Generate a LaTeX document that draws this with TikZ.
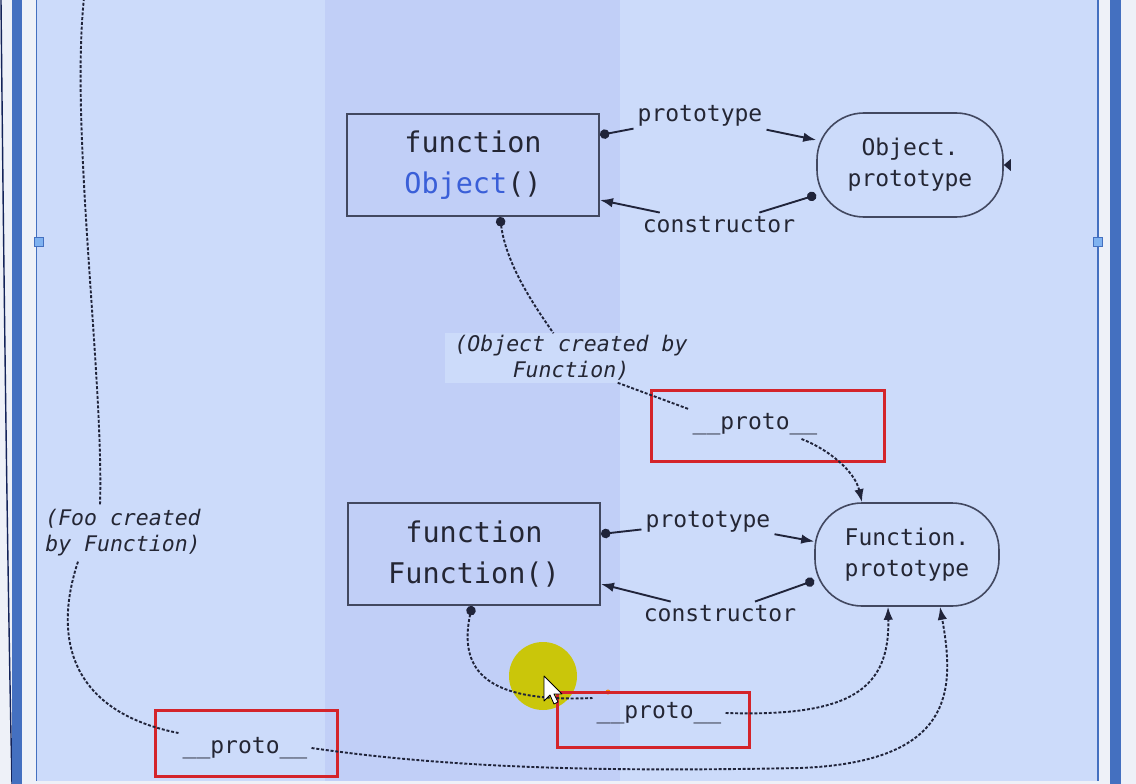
\documentclass[tikz,border=0pt]{standalone}
\usepackage{fontspec}
\usetikzlibrary{arrows.meta,calc}
\newfontfamily\codefont{DejaVu Sans Mono}
\newcommand\bigmono{\codefont\fontsize{28.5}{41}\selectfont}
\newcommand\midmono{\codefont\fontsize{23}{31}\selectfont}
\newcommand\notemono{\codefont\itshape\fontsize{21.5}{26}\selectfont}
\definecolor{panel}{RGB}{204,219,250}
\definecolor{strip}{RGB}{193,207,247}
\definecolor{outer}{RGB}{238,241,248}
\definecolor{bar}{RGB}{68,112,192}
\definecolor{navy}{RGB}{20,36,90}
\definecolor{ink}{RGB}{36,38,52}
\definecolor{boxline}{RGB}{66,72,96}
\definecolor{wire}{RGB}{32,36,58}
\definecolor{redmark}{RGB}{212,36,42}
\definecolor{objblue}{RGB}{58,95,216}
\definecolor{hl}{RGB}{202,198,10}
\definecolor{handle}{RGB}{127,178,240}
\tikzset{
  fnbox/.style={draw=boxline, line width=2pt, minimum width=252pt, minimum height=102pt,
    align=center, font=\bigmono, text=ink, inner sep=0pt},
  protobox/.style={draw=boxline, line width=1.6pt, rounded corners=47pt, minimum width=186pt,
    minimum height=104pt, align=center, font=\midmono, text=ink, inner sep=0pt},
  lbl/.style={font=\midmono, text=ink, inner sep=4pt},
  note/.style={font=\notemono, text=ink, align=center, inner sep=5pt},
  solidc/.style={draw=wire, line width=1.9pt},
  dotc/.style={draw=wire, line width=1.9pt, dash pattern=on 3pt off 1.8pt},
  redbox/.style={draw=redmark, line width=3pt, inner sep=0pt},
  dotend/.tip={Circle[length=9.5pt]},
  headend/.tip={Latex[length=13pt,width=9.5pt]},
}
\begin{document}
\begin{tikzpicture}[x=1pt,y=-1pt]
\useasboundingbox (0,0) rectangle (1136,784);
% window frame and panel
\fill[outer] (0,0) rectangle (1136,784);
\draw[navy, line width=1.4pt] (1,0) .. controls (4,300) and (8,600) .. (12,784);
\fill[bar] (12,0) rectangle (22,784);
\fill[bar] (1110,0) rectangle (1121,784);
\fill[panel] (37,0) rectangle (1098,781);
\fill[strip] (325,0) rectangle (620,781);
\draw[bar, line width=1.2pt] (36.5,0) -- (36.5,781);
\draw[bar, line width=1.2pt] (1098,0) -- (1098,781);
\draw[bar, fill=handle, line width=0.8pt] (34,237) rectangle (43,246);
\draw[bar, fill=handle, line width=0.8pt] (1093,237) rectangle (1102,246);

% main nodes
\node[fnbox] (ofn) at (473,165) {function\\\textcolor{objblue}{Object}()};
\node[protobox] (oproto) at (910,165) {Object.\\prototype};
\node[fnbox] (ffn) at (474,554) {function\\Function()};
\node[protobox, minimum width=184pt, minimum height=103pt] (fproto) at (907,554.5) {Function.\\prototype};

% edge labels
\node[lbl] (p1) at (700,116) {prototype};
\node[lbl] (c1) at (719,225) {constructor};
\node[lbl] (p2) at (708,522) {prototype};
\node[lbl] (c2) at (720,614) {constructor};
\node[note, fill=panel, inner xsep=10pt, inner ysep=2pt] (onote) at (571,358) {(Object created by\\Function)};
\node[note] (fnote) at (123,533) {(Foo created\\by Function)};

% cursor highlight
\fill[hl] (543,676) circle (34);
\fill[orange!90!yellow] (608,692) circle (2.5);

% __proto__ labels and their marks
\node[lbl] (pt1) at (755,424) {\_\_proto\_\_};
\node[lbl] (pt2) at (659,713) {\_\_proto\_\_};
\node[lbl] (pt3) at (245,748) {\_\_proto\_\_};
\node[redbox, minimum width=233pt, minimum height=71pt] (r1) at (767.5,425.5) {};
\node[redbox, minimum width=192pt, minimum height=55pt] (r2) at (653,719.5) {};
\node[redbox, minimum width=182pt, minimum height=66pt] (r3) at (246,743) {};

% prototype / constructor links
\draw[solidc, dotend-] ([yshift=30pt]ofn.east) -- (p1);
\draw[solidc, -headend] (p1) -- ([yshift=25pt]oproto.west);
\draw[solidc, dotend-] ([yshift=-30pt]oproto.west) -- (c1);
\draw[solidc, -headend] (c1) -- ([yshift=-35pt]ofn.east);
\draw[solidc, dotend-] ([yshift=20pt]ffn.east) -- (p2);
\draw[solidc, -headend] (p2) -- ([yshift=13pt]fproto.west);
\draw[solidc, dotend-] ([yshift=-26pt]fproto.west) -- (c2);
\draw[solidc, -headend] (c2) -- ([yshift=-30pt]ffn.east);
% arrow tip entering Object.prototype from the right
\fill[wire] (oproto.east) -- ++(7,-6) -- ++(0,12) -- cycle;

% __proto__ chains
\draw[dotc, dotend-] ([xshift=27pt]ofn.south) .. controls (506,262) and (530,300) .. (onote);
\draw[dotc] ([xshift=-80pt]onote.south east) -- (pt1.north west);
\draw[dotc, -headend] ([xshift=-20pt]pt1.south east) .. controls (830,450) and (855,472) .. ([xshift=-45pt]fproto.north);
\draw[dotc, dotend-] ([xshift=-2pt]ffn.south) .. controls (456,680) and (500,702) .. (pt2.north west);
\draw[dotc, -headend] (pt2.east) .. controls (850,717) and (890,690) .. ([xshift=-19pt]fproto.south);
\draw[dotc, -headend] (pt3.east) .. controls (450,768) and (600,772) .. (800,768)
  .. controls (955,762) and (955,690) .. ([xshift=33pt]fproto.south);
\coordinate (footop) at (84,-2);
\draw[dotc] (footop) .. controls (70,130) and (104,380) .. ([xshift=-23pt]fnote.north);
\draw[dotc] ([xshift=-45pt]fnote.south) .. controls (52,640) and (72,712) .. (pt3.north west);

% mouse pointer
\draw[black, fill=white, line width=0.8pt, line join=round]
  (544,676) -- ++(0,25) -- ++(6,-6) -- ++(4,9) -- ++(4,-2) -- ++(-4,-8) -- ++(8,0) -- cycle;
\end{tikzpicture}
\end{document}
